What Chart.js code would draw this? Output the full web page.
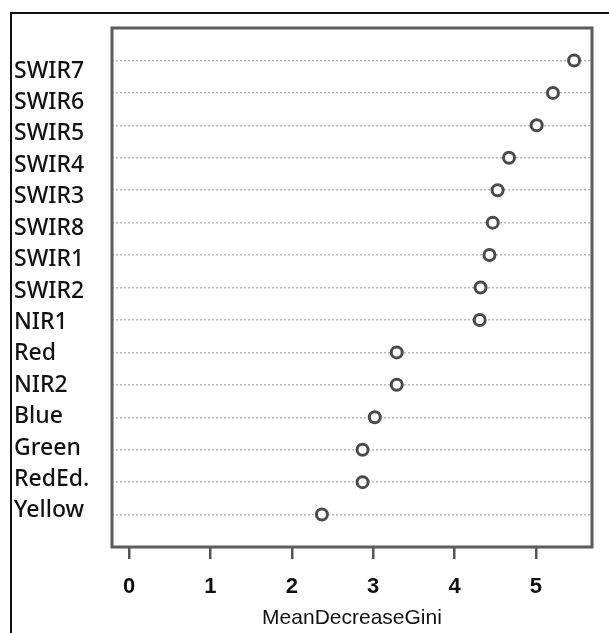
<!DOCTYPE html>
<html>
<head>
<meta charset="utf-8">
<script src="https://cdn.jsdelivr.net/npm/chart.js@4/dist/chart.umd.min.js"></script>
<style>
  html, body { margin: 0; padding: 0; background: #fff; }
  #wrap { position: relative; width: 609px; height: 633px; overflow: hidden; }
  #frame { position: absolute; left: 10px; top: 12px; width: 620px; height: 640px;
           border-top: 2px solid #111; border-left: 2px solid #111; }
  canvas { position: absolute; left: 0; top: 0; }
</style>
</head>
<body>
<div id="wrap">
  <div id="frame"></div>
  <canvas id="gini" width="609" height="633"></canvas>
</div>
<script>
  // bands, top to bottom
  const bands = ['SWIR7', 'SWIR6', 'SWIR5', 'SWIR4', 'SWIR3', 'SWIR8', 'SWIR1', 'SWIR2',
                 'NIR1', 'Red', 'NIR2', 'Blue', 'Green', 'RedEd.', 'Yellow'];
  const giniValues = [5.47, 5.21, 5.01, 4.67, 4.53, 4.47, 4.43, 4.32,
                      4.31, 3.29, 3.29, 3.02, 2.87, 2.87, 2.37];
  const xTicks = [0, 1, 2, 3, 4, 5];

  const points = bands.map((b, i) => ({ x: giniValues[i], y: i }));

  const plotFrame = {
    id: 'plotFrame',
    afterDraw(chart) {
      const { ctx, chartArea: a } = chart;
      ctx.save();
      ctx.strokeStyle = '#5c5c5c';
      ctx.lineWidth = 3;
      ctx.strokeRect(a.left, a.top, a.right - a.left, a.bottom - a.top);
      ctx.restore();
    }
  };

  new Chart(document.getElementById('gini'), {
    type: 'scatter',
    data: {
      datasets: [{
        data: points,
        pointStyle: 'circle',
        pointRadius: 5.5,
        pointHoverRadius: 5.5,
        pointBorderWidth: 3,
        pointBorderColor: '#4a4a4a',
        pointBackgroundColor: '#fff',
      }]
    },
    plugins: [plotFrame],
    options: {
      responsive: false,
      animation: false,
      events: [],
      layout: { padding: { top: 28, right: 17, bottom: 0, left: 14 } },
      plugins: { legend: { display: false }, tooltip: { enabled: false } },
      scales: {
        x: {
          type: 'linear',
          position: 'bottom',
          min: -0.21,
          max: 5.69,
          afterBuildTicks: s => { s.ticks = xTicks.map(v => ({ value: v })); },
          afterFit: s => { s.height = 86; },
          grid: { drawOnChartArea: false, drawTicks: true, tickLength: 12, color: '#555', lineWidth: 2.5 },
          border: { display: false },
          ticks: { color: '#111', padding: 15, font: { family: 'Liberation Sans', size: 22, weight: 'bold' } },
          title: {
            display: true,
            text: 'MeanDecreaseGini',
            color: '#111',
            font: { family: 'Liberation Sans', size: 21 },
            padding: { top: 0, bottom: 2 }
          }
        },
        y: {
          type: 'linear',
          position: 'left',
          reverse: true,
          min: -1,
          max: 15,
          afterBuildTicks: s => { s.ticks = bands.map((_, i) => ({ value: i })); },
          afterFit: s => { s.width = 0; },
          grid: { color: '#b5b5b5', lineWidth: 1.5, drawTicks: false },
          border: { display: false, dash: [2, 2] },
          ticks: { display: false }
        },
        yLabels: {
          type: 'linear',
          position: 'left',
          reverse: true,
          min: -1.37,
          max: 15.15,
          afterBuildTicks: s => { s.ticks = bands.map((_, i) => ({ value: i })); },
          afterFit: s => { s.width = 98; },
          grid: { display: false },
          border: { display: false },
          ticks: {
            crossAlign: 'far',
            color: '#111',
            font: { family: 'Noto Sans', size: 23, weight: '500' },
            callback: v => bands[v]
          }
        }
      }
    }
  });
</script>
</body>
</html>
